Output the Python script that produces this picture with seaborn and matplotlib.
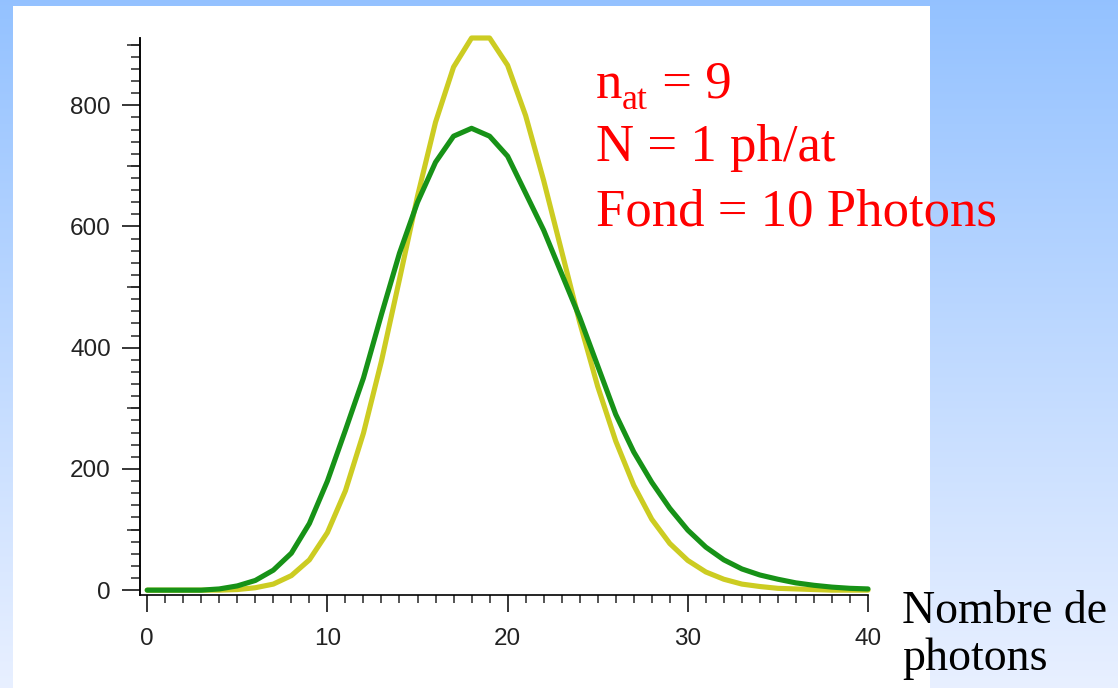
import numpy as np
import pandas as pd
import matplotlib
matplotlib.use("Agg")
import matplotlib.pyplot as plt
import seaborn as sns
from matplotlib.ticker import MultipleLocator, FixedLocator, NullFormatter
from matplotlib.patches import Rectangle

# ---- data ----
photons = list(range(0, 41))
yellow_counts = [0, 0, 0, 0, 0, 1, 4, 10, 24, 50, 95, 164, 259, 378, 513, 650, 772,
                 863, 911, 911, 866, 783, 676, 559, 442, 336, 246, 173, 117, 77, 49,
                 30, 18, 10, 6, 3, 2, 1, 0, 0, 0]
green_counts = [0, 0, 0, 0, 2, 7, 16, 33, 61, 110, 180, 264, 350, 455, 556, 640, 706,
                749, 762, 749, 716, 655, 594, 522, 450, 370, 290, 228, 178, 135, 99,
                71, 50, 35, 25, 18, 12, 8, 5, 3, 2]
x_ticks = [0, 10, 20, 30, 40]
y_ticks = [0, 200, 400, 600, 800]
y_mid_ticks = [100, 300, 500, 700, 900]
annot_lines = ["N = 1 ph/at", "Fond = 10 Photons"]
xlabel_lines = ["Nombre de", "photons"]

sns.set_style("ticks")
plt.rcParams["font.family"] = ["Liberation Sans", "DejaVu Sans"]

W, H = 1118, 688
fig = plt.figure(figsize=(W / 100, H / 100), dpi=100)

# gradient background
bg = fig.add_axes([0, 0, 1, 1], zorder=-10)
grad = np.linspace(0, 1, 256).reshape(-1, 1)
top = np.array([0.58, 0.76, 1.0])
bot = np.array([0.91, 0.94, 1.0])
img = top[None, None, :] * (1 - grad[:, :, None]) + bot[None, None, :] * grad[:, :, None]
bg.imshow(img, aspect="auto", extent=[0, 1, 0, 1], origin="upper")
bg.set_xlim(0, 1); bg.set_ylim(0, 1)
bg.axis("off")
bg.add_patch(Rectangle((13 / W, 0), (930 - 13) / W, 1 - 6 / H, facecolor="white",
                       edgecolor="none", transform=bg.transAxes))

# main axes
x0, x1 = 140 / W, 868 / W
y0, y1 = 1 - 595 / H, 1 - 38 / H
ax = fig.add_axes([x0, y0, x1 - x0, y1 - y0])
ax.patch.set_alpha(0)

df = pd.DataFrame({"photons": photons + photons,
                   "count": yellow_counts + green_counts,
                   "serie": ["jaune"] * len(photons) + ["vert"] * len(photons)})
sns.lineplot(data=df, x="photons", y="count", hue="serie",
             palette={"jaune": "#cccc22", "vert": "#179217"},
             linewidth=3.7, legend=False, ax=ax, clip_on=False)

ax.set_xlim(-0.4, 40)
ax.set_ylim(-8, 911)
ax.set_xlabel(""); ax.set_ylabel("")
for s in ["top", "right"]:
    ax.spines[s].set_visible(False)
for s in ["left", "bottom"]:
    ax.spines[s].set_linewidth(1.2)
    ax.spines[s].set_color("black")

ax.xaxis.set_major_locator(FixedLocator(x_ticks))
ax.xaxis.set_minor_locator(MultipleLocator(1))
ax.yaxis.set_major_locator(FixedLocator(y_ticks))
ax.yaxis.set_minor_locator(MultipleLocator(20))
ax.tick_params(axis="x", which="major", length=12, width=1.1, pad=12,
               labelsize=17.5, colors="black", direction="out")
ax.tick_params(axis="x", which="minor", length=6, width=1.1, direction="out")
ax.tick_params(axis="y", which="major", length=13, width=1.1, pad=8,
               labelsize=17.5, colors="black", direction="out")
ax.tick_params(axis="y", which="minor", length=6.5, width=1.1, direction="out")
for lab in ax.get_xticklabels() + ax.get_yticklabels():
    lab.set_color("#222222")

sec = ax.secondary_yaxis("left")
sec.yaxis.set_major_locator(FixedLocator(y_mid_ticks))
sec.yaxis.set_major_formatter(NullFormatter())
sec.yaxis.set_minor_locator(FixedLocator([]))
sec.tick_params(axis="y", which="major", length=9.5, width=1.1, direction="out")
sec.spines["left"].set_linewidth(1.2)

# annotations (first line built from pieces for the subscript)
serif = "Liberation Serif"
fig.text(596 / W, 1 - 98 / H, "n", color="red", fontsize=38, family=serif,
         va="baseline", ha="left")
fig.text(622 / W, 1 - 109 / H, "at", color="red", fontsize=26, family=serif,
         va="baseline", ha="left")
fig.text(649 / W, 1 - 98 / H, " = 9", color="red", fontsize=38, family=serif,
         va="baseline", ha="left")
for txt, b in zip(annot_lines, [161, 225]):
    fig.text(596 / W, 1 - b / H, txt, color="red", fontsize=38,
             family=serif, va="baseline", ha="left")

for txt, b in zip(xlabel_lines, [623, 670]):
    fig.text(902 / W, 1 - b / H, txt, color="black", fontsize=33,
             family=serif, va="baseline", ha="left")

fig.savefig("out.png", dpi=100)
